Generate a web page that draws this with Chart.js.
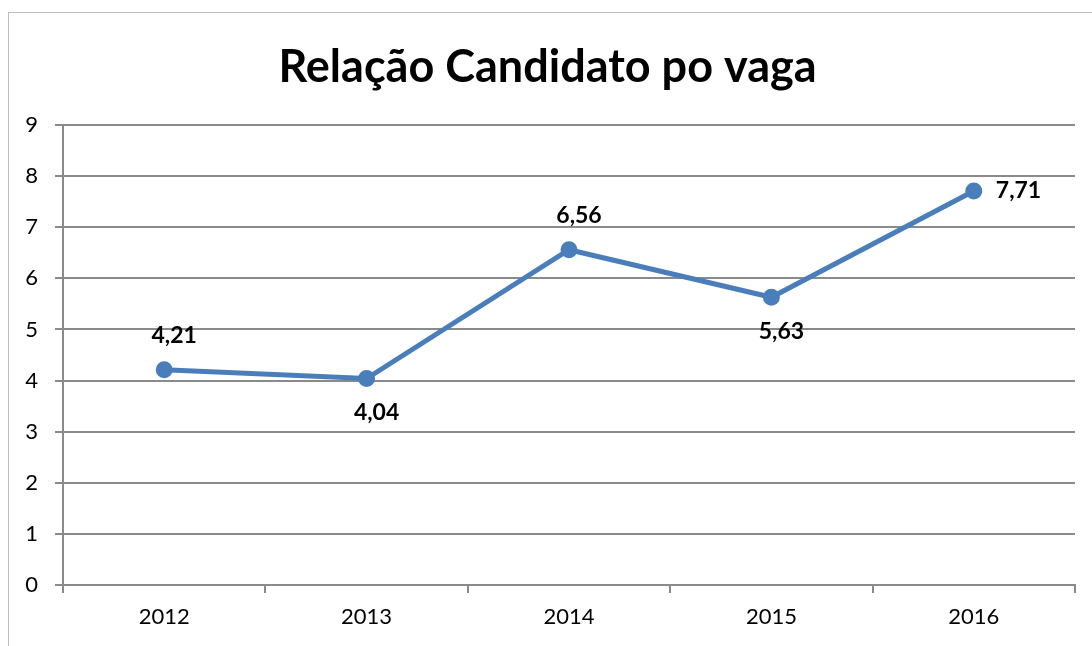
<!DOCTYPE html>
<html>
<head>
<meta charset="utf-8">
<script src="https://cdn.jsdelivr.net/npm/chart.js@4"></script>
<style>
  html, body { margin: 0; padding: 0; background: #fff; overflow: hidden; }
  #wrap { position: relative; width: 1092px; height: 646px; }
  #frame { position: absolute; left: 8px; top: 12px; width: 1200px; height: 700px; border: 1px solid #bfbfbf; }
  canvas { position: absolute; left: 0; top: 0; }
</style>
</head>
<body>
<div id="wrap">
  <div id="frame"></div>
  <canvas id="myChart" width="1092" height="646"></canvas>
</div>
<script>
const years = ['2012', '2013', '2014', '2015', '2016']
const ratio = [4.21, 4.04, 6.56, 5.63, 7.71]
const yTicks = [0, 1, 2, 3, 4, 5, 6, 7, 8, 9]
// where each value label sits relative to its point
const labelSide = ['above', 'below', 'above', 'below', 'right']

const fontFam = 'Lato, "Open Sans", sans-serif'

const valueLabels = {
    id: 'valueLabels',
    afterDatasetsDraw(chart) {
        const ctx = chart.ctx
        const meta = chart.getDatasetMeta(0)
        ctx.save()
        ctx.font = 'bold 23px ' + fontFam
        ctx.fillStyle = '#000'
        ctx.textBaseline = 'middle'
        meta.data.forEach(function (pt, i) {
            const txt = ratio[i].toFixed(2).replace('.', ',')
            const side = labelSide[i]
            if (side == 'right') {
                ctx.textAlign = 'left'
                ctx.fillText(txt, pt.x + 22, pt.y)
            } else {
                ctx.textAlign = 'center'
                ctx.fillText(txt, pt.x + 10, side == 'above' ? pt.y - 34 : pt.y + 34)
            }
        })
        ctx.restore()
    }
}

const data = {
    labels: years,
    datasets: [{
        label: 'Relação',
        data: ratio,
        fill: false,
        borderColor: '#4a7ebb',
        backgroundColor: '#4a7ebb',
        borderWidth: 5,
        pointRadius: 6,
        pointHoverRadius: 6,
        tension: 0
    }]
}

const config = {
    type: 'line',
    data: data,
    plugins: [valueLabels],
    options: {
        responsive: false,
        animation: false,
        layout: { padding: { left: 20, right: 17, top: 0, bottom: 0 } },
        plugins: {
            legend: { display: false },
            tooltip: { enabled: false },
            title: {
                display: true,
                text: 'Relação Candidato po vaga',
                color: '#000',
                font: { family: fontFam, size: 45, weight: 'bold', lineHeight: 1.2 },
                padding: { top: 40, bottom: 31 }
            }
        },
        scales: {
            x: {
                offset: true,
                grid: { offset: true, drawOnChartArea: false, drawTicks: true, tickLength: 8, color: '#8a8a8a', lineWidth: 2 },
                border: { color: '#8a8a8a', width: 2 },
                ticks: { color: '#000', padding: 11, font: { family: fontFam, size: 22 } },
                afterFit(scale) { scale.height = 61 }
            },
            y: {
                min: 0,
                max: 9,
                afterBuildTicks(scale) { scale.ticks = yTicks.map(v => ({ value: v })) },
                grid: { color: '#8a8a8a', lineWidth: 2, tickLength: 8 },
                border: { color: '#8a8a8a', width: 2 },
                ticks: { color: '#000', padding: 17, font: { family: fontFam, size: 22 } },
                afterFit(scale) { scale.width = 43 }
            }
        }
    }
}

var myChart = new Chart(document.getElementById('myChart'), config)
</script>
</body>
</html>
